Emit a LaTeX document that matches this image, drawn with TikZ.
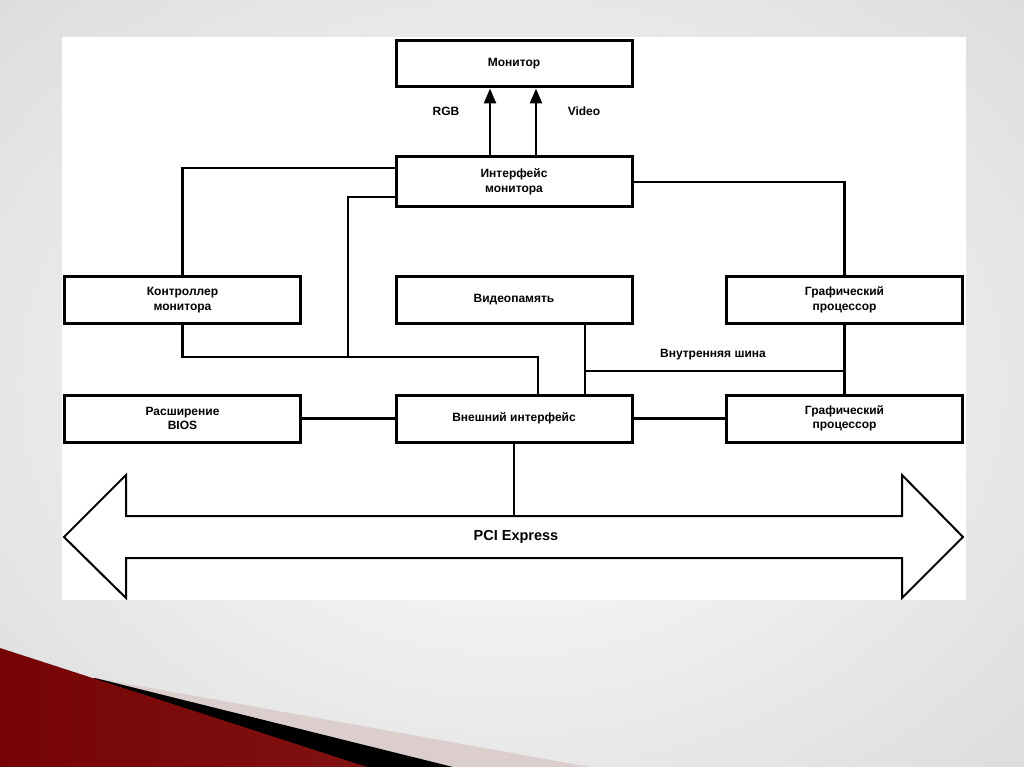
\documentclass[tikz,border=0pt]{standalone}
\usepackage{fontspec}
\setmainfont{Liberation Sans}
\usetikzlibrary{arrows.meta}
\definecolor{slidegray}{RGB}{216,216,216}
\definecolor{wedgedark}{RGB}{118,4,4}
\definecolor{wedgemid}{RGB}{172,72,72}
\definecolor{bandpale}{RGB}{221,206,206}

\tikzset{
  blk/.style={draw, line width=3pt, fill=white, minimum width=236pt, minimum height=47pt,
    align=center, font=\fontsize{12}{14.5}\selectfont\bfseries},
  wire/.style={line width=2.2pt},
  sig/.style={line width=2.6pt, -{Triangle[length=15pt,width=12pt]}},
  lbl/.style={font=\fontsize{12}{14.5}\selectfont\bfseries},
}

\begin{document}
\begin{tikzpicture}[x=1pt,y=-1pt]
  \useasboundingbox (0,0) rectangle (1024,767);
  % slide background
  \fill[slidegray] (0,0) rectangle (1024,767);
  \shade[inner color=white, outer color=slidegray] (-300,-250) rectangle (1324,1017);
  \fill[bandpale]  (95,678) -- (590,767) -- (0,767) -- cycle;
  \fill[black]     (95,678) -- (453,767) -- (0,767) -- cycle;
  \shade[left color=wedgedark, middle color=wedgemid, right color=wedgedark!80!wedgemid]
    (0,648) -- (367,767) -- (0,767) -- cycle;
  \fill[white] (62,37) rectangle (966,600);

  % boxes
  \node[blk, minimum height=46pt] (mon)   at (514,64)    {Монитор};
  \node[blk, minimum height=50pt] (iface) at (514,182)   {Интерфейс\\монитора};
  \node[blk] (ctrl) at (182.5,300) {Контроллер\\монитора};
  \node[blk] (vmem) at (514,300)   {Видеопамять};
  \node[blk] (gp1)  at (844.5,300) {Графический\\процессор};
  \node[blk] (bios) at (182.5,418.5) {Расширение\\BIOS};
  \node[blk] (ext)  at (514,418.5)   {Внешний интерфейс};
  \node[blk] (gp2)  at (844.5,418.5) {Графический\\процессор};

  % signals to the monitor
  \draw[sig] ([xshift=-24pt]iface.north) -- ([xshift=-24pt]mon.south);
  \draw[sig] ([xshift=22pt]iface.north) -- ([xshift=22pt]mon.south);
  \node[lbl] (rgb) at (446,111) {RGB};
  \node[lbl] (vid) at (584,111) {Video};

  % wiring
  \coordinate (j1) at (538,357);
  \coordinate (j2) at (348,357);
  \coordinate (bus) at (585,371);
  \draw[wire] (ctrl.north) |- ([yshift=14pt]iface.west);
  \draw[wire] (ctrl.south) |- (j1) -- (j1 |- ext.north);
  \draw[wire] (j2) |- ([yshift=-15pt]iface.west);
  \draw[wire] (iface.east) -| (gp1.north);
  \draw[wire] ([xshift=71pt]vmem.south) -- ([xshift=71pt]ext.north);
  \draw[wire] (bus) -- (bus -| gp1.south);
  \draw[wire] (gp1.south) -- (gp2.north);
  \draw[wire] (bios.east) -- (ext.west);
  \draw[wire] (ext.east) -- (gp2.west);
  \node[lbl] (ibus) at (713,355) {Внутренняя шина};

  % PCI Express bus
  \coordinate (pcitop) at (514,516);
  \draw[line width=2pt, line join=miter, fill=white]
    (64,537) -- (126,475) -- (126,516) -- (902,516) -- (902,475) -- (963,537)
    -- (902,598) -- (902,558) -- (126,558) -- (126,598) -- cycle;
  \draw[wire] (ext.south) -- (pcitop);
  \node[lbl, font=\fontsize{14.5}{16}\selectfont\bfseries] (pci) at (516,537) {PCI Express};
\end{tikzpicture}
\end{document}
